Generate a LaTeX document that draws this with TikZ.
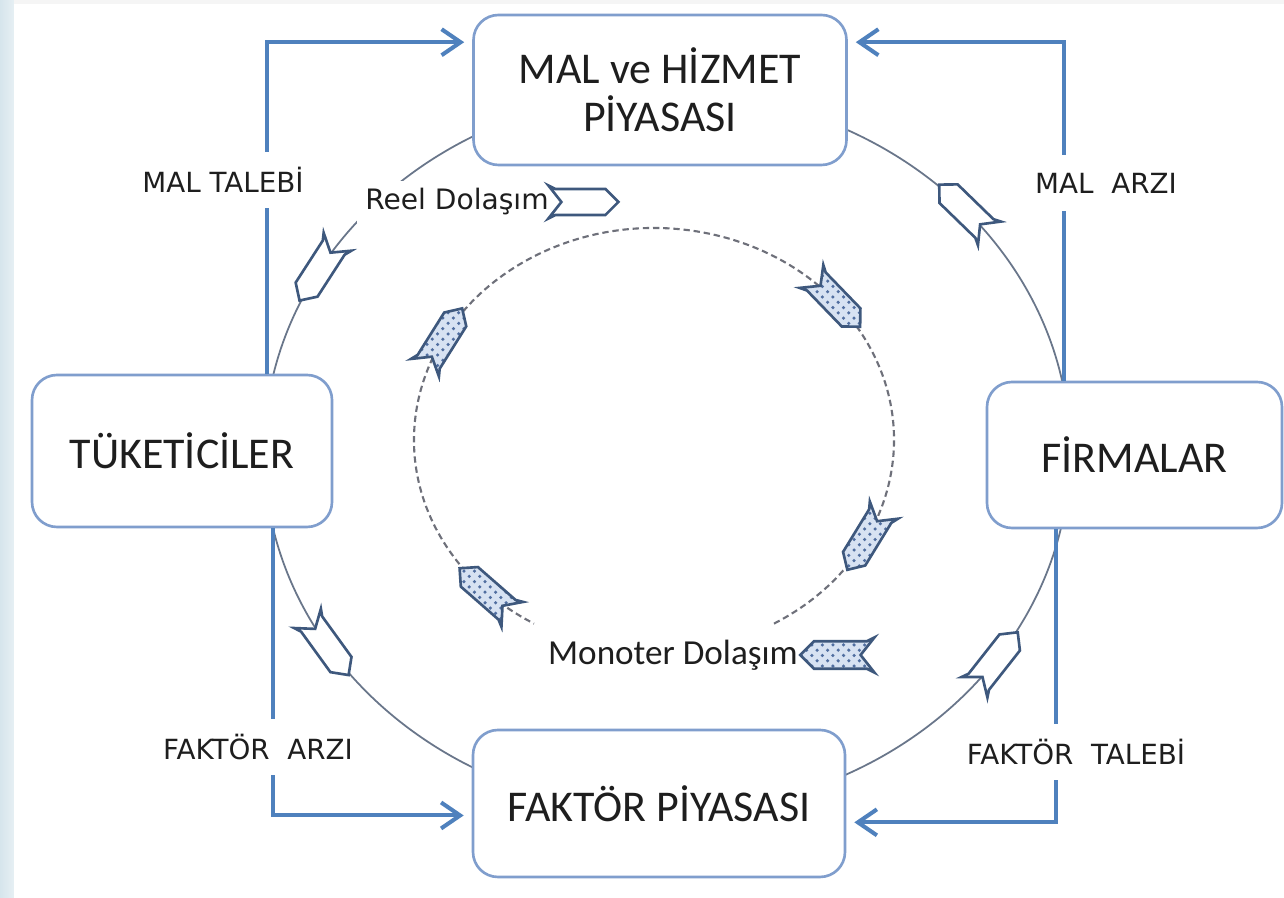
\documentclass[tikz,border=0pt]{standalone}
\usepackage{fontspec}
\setmainfont{Carlito}
\newfontfamily\labelfont{DejaVu Sans}
\usepackage{tikz}
\usetikzlibrary{calc}
\usetikzlibrary{arrows.meta, positioning, patterns}
\definecolor{boxline}{RGB}{128,158,205}
\definecolor{flowblue}{RGB}{79,129,189}
\definecolor{ringgray}{RGB}{105,118,138}
\definecolor{dashgray}{RGB}{110,112,122}
\definecolor{tagline}{RGB}{62,88,125}
\definecolor{tagfill}{RGB}{215,226,242}
\definecolor{tagdots}{RGB}{80,110,160}
\definecolor{inktext}{RGB}{30,30,30}
\definecolor{edgeblue}{RGB}{214,229,236}
\newcommand{\flowtag}[3]{% position, angle, style
	\draw[shift={#1}, rotate={#2}, #3] (0.34,0) -- (0.21,0.13) -- (-0.29,0.13) -- (-0.36,0.165) -- (-0.23,0) -- (-0.36,-0.165) -- (-0.29,-0.13) -- (0.21,-0.13) -- cycle;
}
\tikzset{
	market/.style={draw=boxline, line width=0.75pt, rounded corners=0.25cm, fill=white, text=inktext, font=\fontsize{12.5}{13.7}\selectfont, align=center},
	flow/.style={draw=flowblue, line width=1.15pt, -{Straight Barb[length=1.9mm, width=2.6mm]}, shorten >=0.08cm},
	flowlabel/.style={fill=white, text=inktext, font=\labelfont\fontsize{7.9}{9.5}\selectfont, inner xsep=0.04cm, minimum height=0.56cm},
	ring/.style={draw=ringgray, line width=0.5pt},
	dashring/.style={draw=dashgray, line width=0.6pt, dash pattern=on 1.8pt off 1.1pt},
	hollowtag/.style={draw=tagline, line width=0.75pt, fill=white},
	dottag/.style={draw=tagline, line width=0.75pt, preaction={fill=tagfill}, pattern=crosshatch dots, pattern color=tagdots},
}

\begin{document}
\begin{tikzpicture}% Circular flow
	\useasboundingbox (0,0) rectangle (12.84,8.98);
	\fill[white] (0,0) rectangle (12.84,8.98);
	\shade[left color=edgeblue, right color=edgeblue!60] (0,0) rectangle (0.14,8.98);
	\fill[black!4] (0.14,8.94) rectangle (12.84,8.98);

	% outer ring and dashed inner ring
	\draw[ring] (6.67,4.46) ellipse [x radius=4.03, y radius=3.60];
	\draw[dashring] ({6.54+2.40*cos(-60)},{4.58+2.12*sin(-60)}) arc[start angle=-60, end angle=240, x radius=2.40, y radius=2.12];

	% markets and sectors
	\node[market, minimum width=3.73cm, minimum height=1.50cm] (mal) at (6.60,8.08) {MAL ve HİZMET\\PİYASASI};
	\node[market, minimum width=3.72cm, minimum height=1.47cm] (fak) at (6.59,0.945) {FAKTÖR PİYASASI};
	\node[market, minimum width=3.00cm, minimum height=1.52cm] (tuk) at (1.82,4.47) {TÜKETİCİLER};
	\node[market, minimum width=2.95cm, minimum height=1.46cm] (fir) at (11.345,4.43) {FİRMALAR};

	\draw[flow] ($(tuk.north west)!0.78!(tuk.north east)$) |- ($(mal.north west)!0.187!(mal.south west)$);
	\draw[flow] ($(fir.north west)!0.264!(fir.north east)$) |- ($(mal.north east)!0.187!(mal.south east)$);
	\draw[flow] ($(tuk.south west)!0.80!(tuk.south east)$) |- ($(fak.north west)!0.58!(fak.south west)$);
	\draw[flow] ($(fir.south west)!0.237!(fir.south east)$) |- ($(fak.north east)!0.626!(fak.south east)$);

	\node[flowlabel] (maltalep) at (2.23,7.18) {MAL TALEBİ};
	\node[flowlabel] (malarz) at (11.06,7.15) {MAL\ \ ARZI};
	\node[flowlabel] (fakarz) at (2.58,1.51) {FAKTÖR\ \ ARZI};
	\node[flowlabel] (faktalep) at (10.76,1.46) {FAKTÖR\ \ TALEBİ};

	\node[fill=white, text=inktext, font=\labelfont\fontsize{8}{9.6}\selectfont, inner sep=0.08cm] (reel) at (4.57,6.96) {Reel Dolaşım};
	\node[text=inktext, font=\fontsize{10}{12}\selectfont] (monoter) at (6.73,2.43) {Monoter Dolaşım};

	% tags along the rings
	\flowtag{($(reel.east)+(0.27,0)$)}{0}{hollowtag}
	\flowtag{($(monoter.east)+(0.26,0)$)}{180}{dottag, scale=1.06}
	\foreach \t in {42.6,150,212.9,324.9}
		\flowtag{({6.67+4.03*cos(\t)},{4.46+3.60*sin(\t)})}{atan2(3.60*cos(\t),-4.03*sin(\t))}{hollowtag};
	\foreach \t in {40.5,151,225.3,331.6}
		\flowtag{({6.54+2.40*cos(\t)},{4.58+2.12*sin(\t)})}{atan2(-2.12*cos(\t),2.40*sin(\t))}{dottag};
\end{tikzpicture}
\end{document}
